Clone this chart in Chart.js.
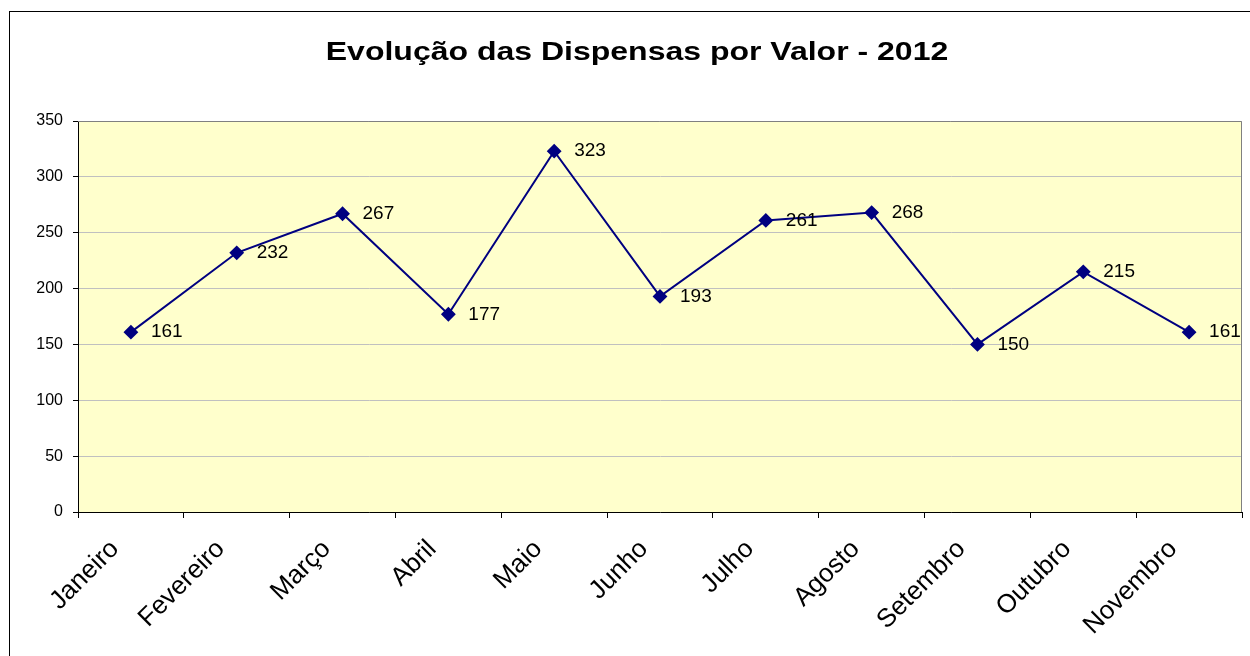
<!DOCTYPE html>
<html>
<head>
<meta charset="utf-8">
<script src="https://cdn.jsdelivr.net/npm/chart.js@4/dist/chart.umd.min.js"></script>
<style>
  html, body { margin: 0; padding: 0; background: #fff; overflow: hidden; }
  #wrap { position: relative; width: 1250px; height: 656px; }
  #frame { position: absolute; left: 9px; top: 11px; width: 1300px; height: 700px; border: 1px solid #000; box-sizing: border-box; pointer-events: none; }
</style>
</head>
<body>
<div id="wrap">
  <canvas id="chart" width="1250" height="656"></canvas>
  <div id="frame"></div>
</div>
<script>
const months = ["Janeiro", "Fevereiro", "Março", "Abril", "Maio", "Junho", "Julho", "Agosto", "Setembro", "Outubro", "Novembro"];
const values = [161, 232, 267, 177, 323, 193, 261, 268, 150, 215, 161];
const yTicks = [0, 50, 100, 150, 200, 250, 300, 350];
const chartTitle = "Evolução das Dispensas por Valor - 2012";

// fundo amarelo da área do gráfico + bordas cinza
const plotArea = {
  id: "plotArea",
  beforeDraw(chart) {
    const { ctx, chartArea: a } = chart;
    ctx.save();
    ctx.fillStyle = "#FFFFCC";
    ctx.fillRect(a.left, a.top, a.right - a.left, a.bottom - a.top);
    ctx.restore();
  },
  afterDraw(chart) {
    const { ctx, chartArea: a } = chart;
    ctx.save();
    ctx.strokeStyle = "#808080";
    ctx.lineWidth = 1;
    ctx.beginPath();
    ctx.moveTo(a.left, a.top + 0.5);
    ctx.lineTo(a.right - 0.5, a.top + 0.5);
    ctx.lineTo(a.right - 0.5, a.bottom);
    ctx.stroke();
    ctx.restore();
  }
};

// título largo (a fonte do original é esticada na horizontal)
const wideTitle = {
  id: "wideTitle",
  afterDraw(chart) {
    const { ctx } = chart;
    ctx.save();
    ctx.font = "bold 25px 'Liberation Sans', Arial, sans-serif";
    ctx.fillStyle = "#000";
    ctx.textAlign = "center";
    ctx.textBaseline = "alphabetic";
    ctx.translate(637, 60);
    ctx.scale(1.28, 1);
    ctx.fillText(chartTitle, 0, 0);
    ctx.restore();
  }
};

// rótulos de valor à direita de cada ponto
const valueLabels = {
  id: "valueLabels",
  afterDatasetsDraw(chart) {
    const { ctx } = chart;
    const meta = chart.getDatasetMeta(0);
    ctx.save();
    ctx.font = "19px 'Liberation Sans', Arial, sans-serif";
    ctx.fillStyle = "#000";
    ctx.textAlign = "left";
    ctx.textBaseline = "middle";
    meta.data.forEach((pt, i) => {
      ctx.fillText(String(values[i]), pt.x + 20, pt.y);
    });
    ctx.restore();
  }
};

new Chart(document.getElementById("chart").getContext("2d"), {
  type: "line",
  data: {
    labels: months,
    datasets: [{
      data: values,
      borderColor: "#000080",
      borderWidth: 2,
      pointStyle: "rectRot",
      pointRadius: 6,
      pointBackgroundColor: "#000080",
      pointBorderColor: "#000080",
      tension: 0
    }]
  },
  options: {
    responsive: false,
    animation: false,
    layout: { padding: { left: 20, right: 5, top: 121, bottom: 0 } },
    plugins: {
      legend: { display: false },
      tooltip: { enabled: false },
      title: { display: false }
    },
    scales: {
      x: {
        offset: true,
        grid: { offset: true, drawOnChartArea: false, drawTicks: true, tickLength: 6, color: "#000" },
        border: { color: "#000", width: 1 },
        ticks: {
          color: "#000",
          maxRotation: 45,
          minRotation: 45,
          autoSkip: false,
          padding: 16,
          labelOffset: -16,
          font: { family: "'Liberation Sans', Arial, sans-serif", size: 26 }
        },
        afterFit(scale) { scale.height = 144; }
      },
      y: {
        min: 0,
        max: 350,
        afterBuildTicks(scale) { scale.ticks = yTicks.map(v => ({ value: v })); },
        grid: { color: "#C0C0C0", tickColor: "#000", tickLength: 5 },
        border: { color: "#000", width: 1 },
        ticks: {
          color: "#000",
          padding: 10,
          font: { family: "'Liberation Sans', Arial, sans-serif", size: 16 }
        },
        afterFit(scale) { scale.width = 58; }
      }
    }
  },
  plugins: [plotArea, wideTitle, valueLabels]
});
</script>
</body>
</html>
